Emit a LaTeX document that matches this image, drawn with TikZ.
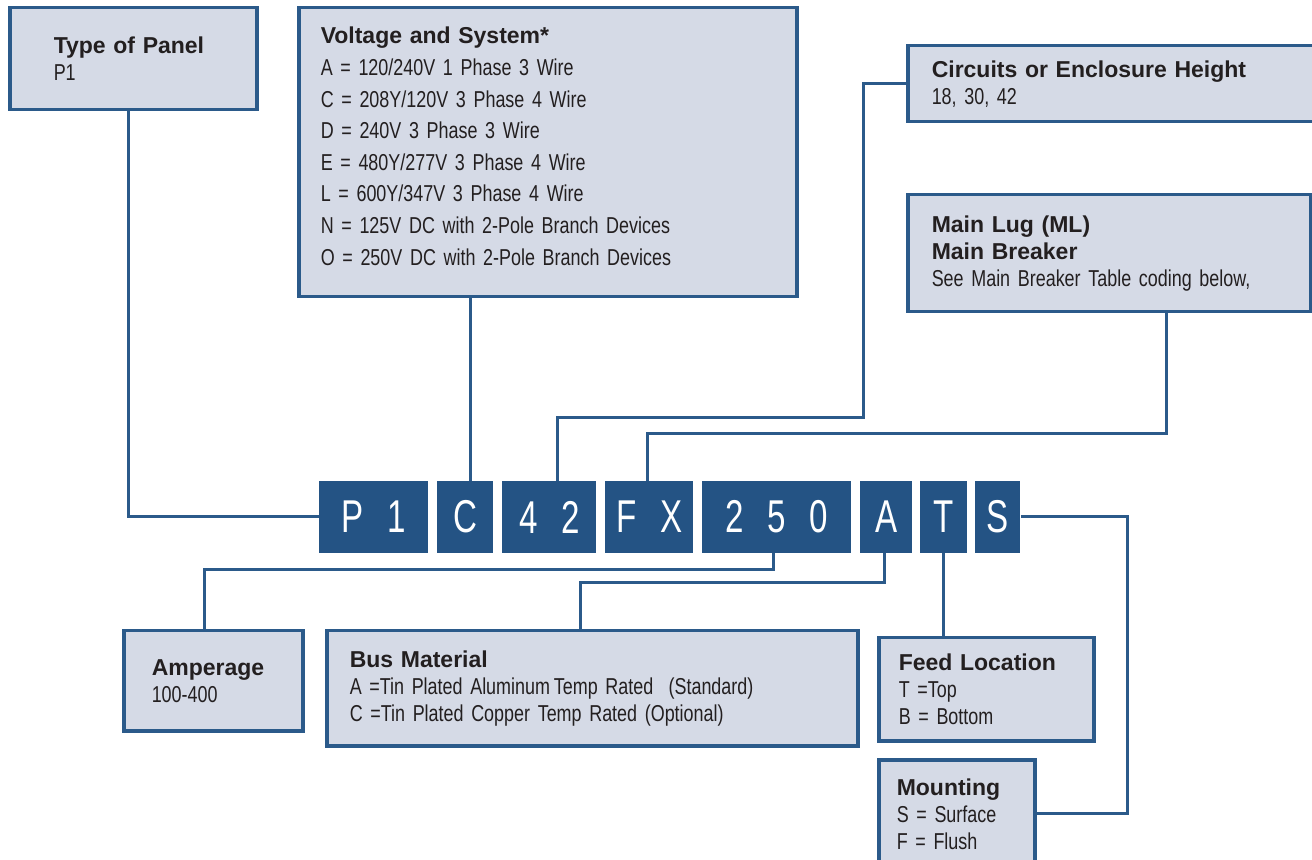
\documentclass[tikz,border=0pt]{standalone}
\usepackage{fontspec}
\setmainfont{Liberation Sans}
\newfontfamily\condfont{Liberation Sans}[FakeStretch=0.78, WordSpace=0.6]
\newfontfamily\codefont{Liberation Sans}[FakeStretch=0.72]
\usetikzlibrary{positioning}

\definecolor{linkblue}{HTML}{2B5A8A}
\definecolor{codeblue}{HTML}{245384}
\definecolor{boxfill}{HTML}{D5DAE6}
\definecolor{inkgray}{HTML}{231F20}
\newcommand{\boxtitle}[1]{{\rmfamily\bfseries\fontsize{11.5}{13.5}\selectfont #1}}
\newcommand{\cg}{\hspace{11.8pt}}

\begin{document}
\begin{tikzpicture}[
  x=0.5pt, y=-0.5pt,
  infobox/.style={draw=linkblue, line width=1.75pt, fill=boxfill, anchor=north west, align=left, inner sep=0pt, text=inkgray, font=\condfont\fontsize{11.5}{13.5}\selectfont},
  codebox/.style={fill=codeblue, anchor=west, minimum height=36pt, inner sep=0pt, text=white, font=\codefont\fontsize{23}{23}\selectfont},
  link/.style={draw=linkblue, line width=1.5pt}
]
\useasboundingbox (0,0) rectangle (1312,860);

\node[infobox, minimum width=123.5pt, minimum height=51pt, text width=79.5pt] (typebox) at (8,6) {\boxtitle{Type of Panel}\\P1};
\node[infobox, minimum width=249pt, minimum height=144.5pt, text width=227pt, font=\condfont\fontsize{11.5}{15.8}\selectfont] (voltbox) at (297,6) {\boxtitle{Voltage and System*}\\A = 120/240V 1 Phase 3 Wire\\C = 208Y/120V 3 Phase 4 Wire\\D = 240V 3 Phase 3 Wire\\E = 480Y/277V 3 Phase 4 Wire\\L = 600Y/347V 3 Phase 4 Wire\\N = 125V DC with 2-Pole Branch Devices\\O = 250V DC with 2-Pole Branch Devices\rule[-6pt]{0pt}{0pt}};
\node[infobox, minimum width=203pt, minimum height=38pt, text width=179pt] (circbox) at (906,44) {\boxtitle{Circuits or Enclosure Height}\\18, 30, 42};
\node[infobox, minimum width=201.5pt, minimum height=58.5pt, text width=177.5pt] (lugbox) at (906,193) {\boxtitle{Main Lug (ML)}\\\boxtitle{Main Breaker}\\See Main Breaker Table coding below,};

\node[infobox, minimum width=89.5pt, minimum height=50pt, text width=61.5pt] (ampbox) at (122,629) {\boxtitle{Amperage}\\100-400};
\node[infobox, minimum width=265.5pt, minimum height=57.5pt, text width=242.5pt] (busbox) at (325,629) {\boxtitle{Bus Material}\\A =Tin Plated Aluminum\,Temp Rated \ (Standard)\\C =Tin Plated Copper Temp Rated (Optional)};
\node[infobox, minimum width=107.5pt, minimum height=51.5pt, text width=87.5pt] (feedbox) at (877,636) {\boxtitle{Feed Location}\\T =Top\\B = Bottom};
\node[infobox, minimum width=78pt, minimum height=55pt, text width=60pt] (mountbox) at (877,758) {\boxtitle{Mounting}\\S = Surface\\F = Flush};

\node[codebox, minimum width=54.5pt] (panelcode) at (319,517) {P\cg1};
\node[codebox, minimum width=28pt] (voltcode) at (437,517) {C};
\node[codebox, minimum width=47pt] (circcode) at (502,517) {4\cg2};
\node[codebox, minimum width=44pt] (lugcode) at (605,517) {F\cg X};
\node[codebox, minimum width=74.5pt] (ampcode) at (702,517) {2\cg5\cg0};
\node[codebox, minimum width=26pt] (buscode) at (860,517) {A};
\node[codebox, minimum width=23.5pt] (feedcode) at (920,517) {T};
\node[codebox, minimum width=22.5pt] (mountcode) at (975,517) {S};

\coordinate (voltjoin) at ([xshift=2.5pt]voltcode.north);
\coordinate (circbend) at (863,418);
\coordinate (lugbend) at (1166,434);
\coordinate (ampbend) at (204,570);
\coordinate (busbend) at (580,583);
\coordinate (mountbend) at (1127,813);

\draw[link] ([xshift=-2.25pt]typebox.south) |- (panelcode.west);
\draw[link] (voltjoin) -- (voltjoin |- voltbox.south);
\draw[link] (circbox.west) -| (circbend) -| ([xshift=4pt]circcode.north);
\draw[link] (lugbox.south -| lugbend) -- (lugbend) -| ([xshift=-1pt]lugcode.north);
\draw[link] ([xshift=-1.75pt]ampcode.south) |- (ampbend) -- (ampbend |- ampbox.north);
\draw[link] ([xshift=-1pt]buscode.south) |- (busbend) -- (busbend |- busbox.north);
\draw[link] (feedcode.south) -- (feedcode.south |- feedbox.north);
\draw[link] (mountcode.east) -| (mountbend) -- (mountbend -| mountbox.east);

\end{tikzpicture}
\end{document}
